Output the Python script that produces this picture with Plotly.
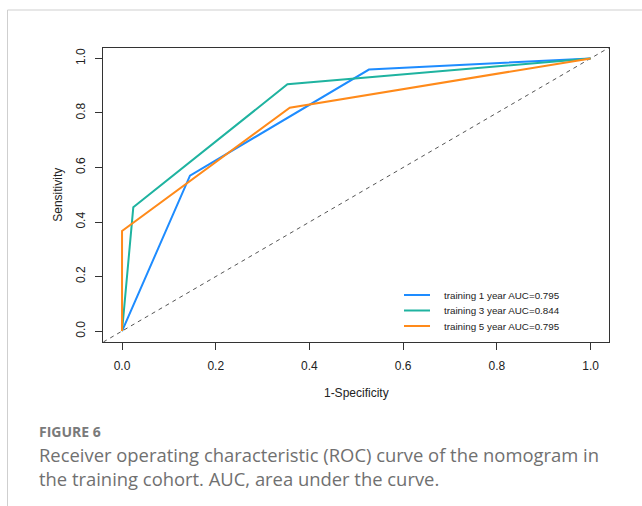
import plotly.graph_objects as go

# ROC operating points (1-specificity, sensitivity) for each time horizon
fpr_1y = [0.0, 0.145, 0.527, 1.0]
tpr_1y = [0.0, 0.570, 0.959, 1.0]
fpr_3y = [0.0, 0.024, 0.353, 1.0]
tpr_3y = [0.0, 0.454, 0.905, 1.0]
fpr_5y = [0.0, 0.0, 0.358, 1.0]
tpr_5y = [0.0, 0.367, 0.819, 1.0]

series_names = [
    "training 1 year AUC=0.795",
    "training 3 year AUC=0.844",
    "training 5 year AUC=0.795",
]
series_colors = ["#1E8CFF", "#1FB3A0", "#FF8A1A"]

tick_vals = [0.0, 0.2, 0.4, 0.6, 0.8, 1.0]
tick_text = ["0.0", "0.2", "0.4", "0.6", "0.8", "1.0"]
axis_range = [-0.04, 1.04]

W, H = 642, 506
plot_left, plot_right = 103.3, 609.3
plot_top, plot_bottom = 47.5, 342.0

fig = go.Figure()

# chance diagonal across the whole plotting region
fig.add_shape(
    type="line", xref="x", yref="y",
    x0=axis_range[0], y0=axis_range[0], x1=axis_range[1], y1=axis_range[1],
    line=dict(color="#555555", width=1, dash="4px,4px"),
    layer="below",
)

for fx, ty, name, col in zip(
    [fpr_1y, fpr_3y, fpr_5y],
    [tpr_1y, tpr_3y, tpr_5y],
    series_names, series_colors,
):
    fig.add_trace(go.Scatter(
        x=fx, y=ty, mode="lines", name=name, showlegend=False,
        line=dict(color=col, width=2),
    ))

# compact base-graphics style legend (no box), drawn in pixel layout units
leg_key_x0, leg_key_x1, leg_text_x = 404, 430, 441.5
leg_row0, leg_row_step = 295, 15.5
legend_font = dict(family="Liberation Sans, Arial, sans-serif", size=9.8, color="#222222")
for i, (name, col) in enumerate(zip(series_names, series_colors)):
    ry = leg_row0 + i * leg_row_step
    fig.add_shape(type="line", xref="paper", yref="paper",
                  x0=leg_key_x0 / W, x1=leg_key_x1 / W,
                  y0=1 - ry / H, y1=1 - ry / H,
                  line=dict(color=col, width=2))
    fig.add_annotation(text=name, xref="paper", yref="paper",
                       x=leg_text_x / W, y=1 - ry / H,
                       xanchor="left", yanchor="middle", showarrow=False,
                       font=legend_font)

axis_font = dict(family="Liberation Sans, Arial, sans-serif", size=12, color="#222222")

fig.update_layout(
    width=W, height=H,
    margin=dict(l=0, r=0, t=0, b=0),
    paper_bgcolor="white", plot_bgcolor="white",
    showlegend=False,
    xaxis=dict(
        domain=[plot_left / W, plot_right / W],
        range=axis_range,
        tickvals=tick_vals, ticktext=tick_text,
        ticks="outside", ticklen=7, tickcolor="#333333", tickwidth=1,
        showline=True, linecolor="#333333", linewidth=1, mirror=True,
        showgrid=False, zeroline=False,
        tickfont=axis_font,
        ticklabelstandoff=6,
        title=dict(text="1-Specificity", font=axis_font, standoff=16),
        anchor="y",
    ),
    yaxis=dict(
        domain=[1 - plot_bottom / H, 1 - plot_top / H],
        range=axis_range,
        tickvals=tick_vals, ticktext=tick_text,
        ticks="outside", ticklen=7, tickcolor="#333333", tickwidth=1,
        tickangle=-90,
        showline=True, linecolor="#333333", linewidth=1, mirror=True,
        showgrid=False, zeroline=False,
        tickfont=axis_font,
        ticklabelstandoff=6,
        title=dict(text="Sensitivity", font=axis_font, standoff=8),
        anchor="x",
    ),
)

# light frame around the figure panel
fig.add_shape(type="line", xref="paper", yref="paper",
              x0=7.5 / W, y0=0, x1=7.5 / W, y1=1 - 10 / H,
              line=dict(color="#cfcfcf", width=1))
fig.add_shape(type="line", xref="paper", yref="paper",
              x0=7.5 / W, y0=1 - 10 / H, x1=1, y1=1 - 10 / H,
              line=dict(color="#cfcfcf", width=1))

caption_font = "Open Sans, Noto Sans, sans-serif"
fig.add_annotation(
    text="<b>FIGURE 6</b>", xref="paper", yref="paper",
    x=37 / W, y=1 - 431 / H, xanchor="left", yanchor="middle",
    showarrow=False, font=dict(family=caption_font, size=14, color="#7a7a7a"),
)
fig.add_annotation(
    text="Receiver operating characteristic (ROC) curve of the nomogram in<br>"
         "the training cohort. AUC, area under the curve.",
    xref="paper", yref="paper",
    x=37 / W, y=1 - 440 / H, xanchor="left", yanchor="top", align="left",
    showarrow=False, font=dict(family=caption_font, size=18.4, color="#707070"),
)

fig.write_html("out.html")
